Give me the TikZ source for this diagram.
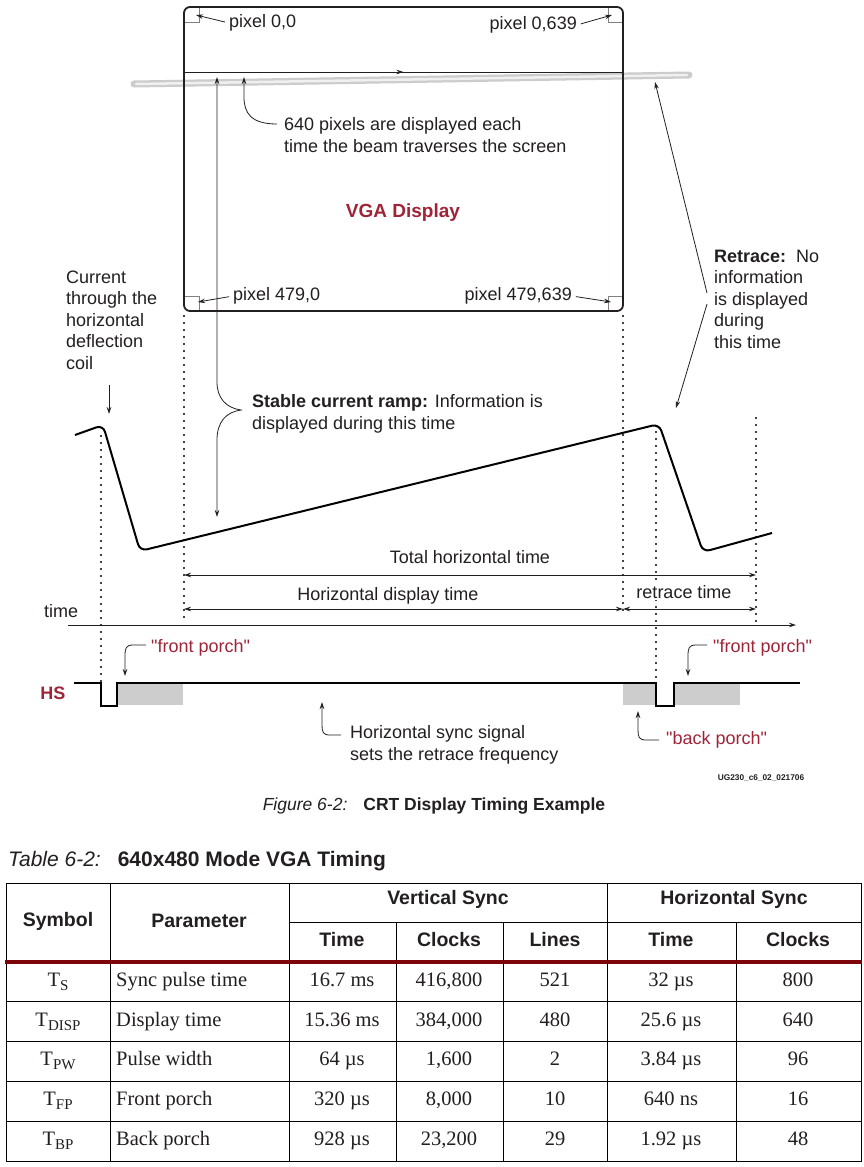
\documentclass[tikz,border=0pt]{standalone}
\usepackage{fontspec}
\setmainfont{Liberation Sans}
\newfontfamily\tabserif{Liberation Serif}
\newfontfamily\qsans[Ligatures=TeXOff]{Liberation Sans}
\usetikzlibrary{arrows.meta,decorations.markings}
\definecolor{vgared}{RGB}{160,36,56}
\definecolor{tblred}{RGB}{125,5,10}
\definecolor{ink}{RGB}{35,31,32}
\definecolor{porch}{RGB}{205,205,205}
\newcommand{\Tsub}[1]{T\raisebox{-4pt}{\fontsize{15}{15}\selectfont #1}}
\newcommand{\qq}{{\qsans\symbol{34}}}
\tikzset{
  lbl/.style={font=\fontsize{18}{21.5}\selectfont, text=ink, inner sep=0pt, align=left},
  redlbl/.style={lbl, text=vgared},
  tipstyle/.style={-{Stealth[length=7pt,width=4.5pt]}},
  callout/.style={draw=ink, line width=0.8pt, tipstyle},
  dimline/.style={draw=ink, line width=0.8pt, {Stealth[length=7pt,width=4.5pt]}-{Stealth[length=7pt,width=4.5pt]}},
  dotline/.style={draw=black, line width=2.2pt, line cap=round, dash pattern=on 0pt off 7pt},
  wave/.style={draw=black, line width=2pt, rounded corners=7pt},
  cornerbox/.style={draw=gray, line width=0.8pt},
  thd/.style={font=\bfseries\fontsize{19.5}{22}\selectfont, text=ink, inner sep=0pt},
  tcell/.style={font=\tabserif\fontsize{20.5}{24}\selectfont, text=ink, inner sep=0pt, text height=14pt, text depth=4pt},
  gridline/.style={draw=black, line width=0.9pt},
}
\begin{document}
\begin{tikzpicture}[x=1pt,y=-1pt]
\useasboundingbox[fill=white] (0,0) rectangle (864,1167);

% ---------- beam (gray tube) ----------
\draw[line width=7pt, gray!40, line cap=round] (134,84) -- (689,75);
\draw[line width=2.5pt, gray!12, line cap=round] (136,84) -- (687,75);

% ---------- display ----------
\draw[line width=1.8pt, ink, rounded corners=6pt] (184,7) rectangle (623,311);
\draw[cornerbox] (199,8) -- (199,22) -- (185,22);
\draw[cornerbox] (608,8) -- (608,22) -- (622,22);
\draw[cornerbox] (185,296) -- (199,296) -- (199,310);
\draw[cornerbox] (622,296) -- (608,296) -- (608,310);

% scan line with mid arrow
\coordinate (scanL) at (184,72);
\coordinate (scanR) at (623,72);
\draw[ink, line width=0.9pt, postaction={decorate}, decoration={markings, mark=at position 0.5 with {\arrow{Stealth[length=7pt,width=4.5pt]}}}] (scanL) -- (scanR);

% corner labels
\node[lbl, anchor=west] (p00) at (229,23) {pixel 0,0};
\node[lbl, anchor=east] (p0639) at (577,25) {pixel 0,639};
\node[lbl, anchor=west] (p4790) at (233,296) {pixel 479,0};
\node[lbl, anchor=east] (p479639) at (572,296) {pixel 479,639};
\coordinate (tlTip) at (196,15);
\coordinate (trTip) at (612,15);
\coordinate (blTip) at (198,302);
\coordinate (brTip) at (611,302);
\draw[callout, shorten <=4pt] (p00.west) -- (tlTip);
\draw[callout, shorten <=4pt] (p0639.east) -- (trTip);
\draw[callout, shorten <=4pt] (p4790.west) -- (blTip);
\draw[callout, shorten <=4pt] (p479639.east) -- (brTip);

% 640 pixels label
\node[lbl, anchor=west] (beamtxt) at (284,135) {640 pixels are displayed each\\time the beam traverses the screen};
\coordinate (beamStart) at (277,124);
\coordinate (beamTip) at (244,77);
\draw[callout] (beamStart) .. controls (251,124) and (244,113) .. (244,97) -- (beamTip);

% VGA Display
\node[redlbl, font=\bfseries\fontsize{19}{22}\selectfont] (vga) at (403,213) {VGA Display};

% Stable current ramp brace
\node[lbl, anchor=west] (stable) at (252,414) {\textbf{Stable current ramp:} Information is\\displayed during this time};
\coordinate (braceTop) at (217,77);
\coordinate (braceTip) at (241,410);
\coordinate (braceBot) at (217,517);
\draw[draw=ink, line width=0.8pt, {Stealth[length=7pt,width=4.5pt]}-{Stealth[length=7pt,width=4.5pt]}]
  (braceTop) -- (217,382) .. controls (217,398) and (226,408) .. (braceTip)
  .. controls (226,412) and (217,422) .. (217,440) -- (braceBot);

% Retrace label
\node[lbl, anchor=west] (retrace) at (714,299) {\textbf{Retrace:}\ \ No\\information\\is displayed\\during\\this time};
\coordinate (rtA) at (707,293);
\coordinate (rtB) at (707,304);
\coordinate (rtTipA) at (655,82);
\coordinate (rtTipB) at (676,408);
\draw[callout] (rtA) -- (rtTipA);
\draw[callout] (rtB) -- (rtTipB);

% Current label
\node[lbl, anchor=west] (current) at (66,320) {Current\\through the\\horizontal\\deflection\\coil};
\coordinate (curA) at (109,385);
\coordinate (curB) at (109,414);
\draw[callout] (curA) -- (curB);

% ---------- dotted lines ----------
\draw[dotline] (101,436) -- (101,683);
\draw[dotline] (184,316) -- (184,624);
\draw[dotline] (623,316) -- (623,617);
\draw[dotline] (656,432) -- (656,683);
\draw[dotline] (756,418) -- (756,624);

% ---------- waveform ----------
\draw[wave] (75,435) -- (103,425) -- (140,551) -- (659,424) -- (703,552) -- (772,533);

% ---------- dimensions ----------
\coordinate (totL) at (184,575);
\coordinate (totR) at (756,575);
\coordinate (dispL) at (184,609);
\coordinate (dispR) at (623,609);
\coordinate (retR) at (756,609);
\draw[dimline] (totL) -- (totR);
\draw[dimline] (dispL) -- (dispR);
\draw[dimline] (dispR) -- (retR);
\node[lbl] (totlbl) at (470,557) {Total horizontal time};
\node[lbl] (displbl) at (388,596) {Horizontal display time};
\node[lbl, fill=white, inner xsep=3pt, inner ysep=1pt] (retlbl) at (684,592) {retrace time};

% time axis
\node[lbl, anchor=west] (timelbl) at (44,611) {time};
\coordinate (tax0) at (68,625);
\coordinate (tax1) at (796,625);
\draw[callout] (tax0) -- (tax1);

% ---------- HS signal ----------
\fill[porch] (117,684) rectangle (183,705);
\fill[porch] (623,684) rectangle (656,705);
\fill[porch] (674,684) rectangle (740,705);
\draw[draw=black, line width=2pt] (74,683) -- (101,683) -- (101,706) -- (117,706) -- (117,683) -- (656,683) -- (656,706) -- (674,706) -- (674,683) -- (800,683);
\node[redlbl, font=\bfseries\fontsize{18}{20}\selectfont] (hs) at (53,693) {HS};

\node[redlbl, anchor=west] (fp1) at (151,648) {\qq front porch\qq};
\node[redlbl, anchor=west] (fp2) at (713,648) {\qq front porch\qq};
\node[redlbl, anchor=west] (bp) at (666,740) {\qq back porch\qq};
\coordinate (fp1a) at (146,645);
\coordinate (fp1b) at (125,676);
\coordinate (fp2a) at (707,645);
\coordinate (fp2b) at (688,676);
\coordinate (bpa) at (659,740);
\coordinate (bpb) at (638,711);
\draw[callout] (fp1a) -- (133,645) .. controls (126,645) and (125,648) .. (125,656) -- (fp1b);
\draw[callout] (fp2a) -- (696,645) .. controls (689,645) and (688,648) .. (688,656) -- (fp2b);
\draw[callout] (bpa) -- (646,740) .. controls (639,740) and (638,737) .. (638,730) -- (bpb);

\node[lbl, anchor=west] (hsync) at (350,745) {Horizontal sync signal\\sets the retrace frequency};
\coordinate (hsa) at (341,735);
\coordinate (hsb) at (322,702);
\draw[callout] (hsa) -- (330,735) .. controls (323,735) and (322,732) .. (322,725) -- (hsb);

\node[font=\bfseries\fontsize{8.3}{9}\selectfont, text=ink, inner sep=0pt] (ug) at (761,778) {UG230\_c6\_02\_021706};

% ---------- captions ----------
\node[lbl, font=\fontsize{17.5}{20}\selectfont] (figcap) at (434,806) {\textit{Figure 6-2:}\hspace{16pt}\textbf{CRT Display Timing Example}};
\node[lbl, anchor=west, font=\fontsize{21}{24}\selectfont] (tabcap) at (8,861) {\textit{Table 6-2:}\hspace{17pt}\textbf{640x480 Mode VGA Timing}};

% ---------- table ----------
\draw[gridline] (6,883) rectangle (861,1161);
\draw[gridline] (110,883) -- (110,1161);
\draw[gridline] (289,883) -- (289,1161);
\draw[gridline] (607,883) -- (607,1161);
\draw[gridline] (396,922) -- (396,1161);
\draw[gridline] (503,922) -- (503,1161);
\draw[gridline] (736,922) -- (736,1161);
\draw[gridline] (289,922) -- (861,922);
\foreach \yy in {1001,1041,1081,1121} \draw[gridline] (6,\yy) -- (861,\yy);
\draw[tblred, line width=4pt] (5,962) -- (862,962);

\node[thd] (hSym) at (58,921) {Symbol};
\node[thd] (hPar) at (199,921) {Parameter};
\node[thd] (hVS) at (448,899) {Vertical Sync};
\node[thd] (hHS) at (734,899) {Horizontal Sync};
\node[thd] (hT1) at (342,940) {Time};
\node[thd] (hC1) at (449,940) {Clocks};
\node[thd] (hL1) at (555,940) {Lines};
\node[thd] (hT2) at (671,940) {Time};
\node[thd] (hC2) at (798,940) {Clocks};

\foreach \yy/\sym/\pn/\va/\vb/\vc/\vd/\ve [count=\r] in {
  981/S/Sync pulse time/16.7 ms/{416,800}/521/32 µs/800,
  1021/DISP/Display time/15.36 ms/{384,000}/480/25.6 µs/640,
  1060/PW/Pulse width/64 µs/{1,600}/2/3.84 µs/96,
  1100/FP/Front porch/320 µs/{8,000}/10/640 ns/16,
  1140/BP/Back porch/928 µs/{23,200}/29/1.92 µs/48}
{
  \node[tcell] (s\r) at (58,\yy) {\Tsub{\sym}};
  \node[tcell, anchor=west] (p\r) at (116,\yy) {\pn};
  \node[tcell] (a\r) at (342,\yy) {\va};
  \node[tcell] (b\r) at (449,\yy) {\vb};
  \node[tcell] (c\r) at (555,\yy) {\vc};
  \node[tcell] (d\r) at (671,\yy) {\vd};
  \node[tcell] (e\r) at (798,\yy) {\ve};
}
\end{tikzpicture}
\end{document}
